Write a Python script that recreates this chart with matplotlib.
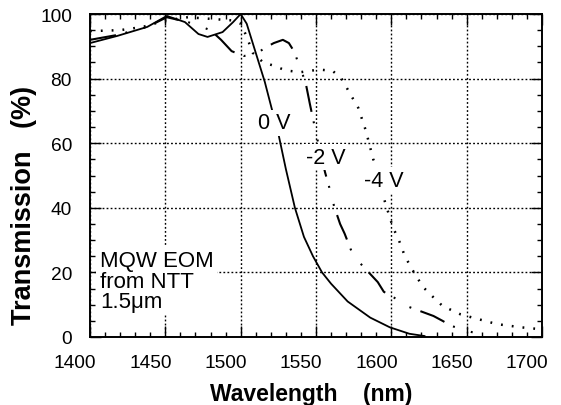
import matplotlib
matplotlib.use("Agg")
import matplotlib.pyplot as plt
from matplotlib.ticker import MultipleLocator
from matplotlib.transforms import ScaledTranslation

# Transmission spectra of an MQW electro-optic modulator at three bias voltages
wl_0v = [1400, 1418, 1438, 1451, 1463, 1472, 1478, 1488, 1495, 1500, 1504, 1508,
         1512, 1516, 1521, 1525, 1530, 1536, 1542, 1548, 1554, 1560, 1571, 1586,
         1599, 1612, 1622]
tr_0v = [91, 93.2, 96, 99.4, 97.5, 93.8, 92.9, 94.4, 97.5, 100, 97, 91,
         85, 79, 70, 63, 52, 40, 31, 25, 20, 16.5, 11, 6,
         3, 1, 0.3]

wl_2v = [1400, 1418, 1438, 1451, 1465, 1480, 1487, 1494, 1502, 1510, 1516, 1522,
         1528, 1532, 1536, 1538, 1543, 1546, 1551, 1556, 1559, 1562, 1566, 1569,
         1574, 1578, 1591, 1595, 1607, 1610, 1628, 1634, 1640, 1650, 1657]
tr_2v = [92, 93.5, 96, 99, 97.5, 95, 92, 88.5, 87, 87.5, 89.5, 91,
         92, 91, 88, 85, 79, 72, 61, 51, 46, 40.5, 35, 32,
         26, 23.5, 17, 14, 10.8, 9.6, 6.5, 5, 3.4, 2, 1]

wl_4v = [1400, 1420, 1435, 1450, 1465, 1480, 1495, 1500, 1504, 1508, 1515, 1522,
         1530, 1540, 1552, 1561, 1567, 1573, 1578, 1583, 1588, 1591, 1595, 1601,
         1605, 1609, 1615, 1621, 1627, 1634, 1646, 1654, 1670, 1686, 1697]
tr_4v = [94.7, 95, 96, 98, 99, 98.5, 98, 97, 93, 88, 85, 84,
         82.5, 82, 82.8, 82.4, 80, 75, 71, 64, 55, 52, 43, 34,
         30, 25, 20, 15.5, 12.7, 9.6, 7, 6, 4, 3, 2.5]

x_ticks = [1400, 1450, 1500, 1550, 1600, 1650, 1700]
y_ticks = [0, 20, 40, 60, 80, 100]

plt.rcParams["font.family"] = ["Liberation Sans", "DejaVu Sans"]
plt.rcParams["lines.scale_dashes"] = False

fig = plt.figure(figsize=(5.61, 4.06), dpi=100)
ax = fig.add_axes([90 / 561, 1 - 338 / 406, 452 / 561, 323 / 406])

ax.plot(wl_0v, tr_0v, color="k", lw=1.3, solid_joinstyle="round", zorder=3)
ax.plot(wl_2v, tr_2v, color="k", lw=1.5,
        linestyle=(0, (19, 7, 1.4, 12, 1.4, 7)), zorder=3)
ax.plot(wl_4v, tr_4v, color="k", lw=1.8, linestyle=(0, (1.3, 6.5)), zorder=3)

ax.set_xlim(1400, 1700)
ax.set_ylim(0, 100)
ax.set_xticks(x_ticks)
ax.set_yticks(y_ticks)
ax.xaxis.set_minor_locator(MultipleLocator(10))
ax.yaxis.set_minor_locator(MultipleLocator(5))

ax.set_axisbelow(True)
ax.grid(True, which="major", color="k", lw=1.0, linestyle=(0, (1.3, 1.6)))

for s in ax.spines.values():
    s.set_linewidth(1.4)

ax.tick_params(which="both", direction="in", top=True, right=True, color="k")
ax.tick_params(which="major", length=8, width=1.0, labelsize=13.8)
ax.tick_params(axis="x", which="major", pad=12.5)
ax.tick_params(axis="y", which="major", pad=13)
ax.tick_params(which="minor", length=3.5, width=1.0)

# tick numbers sit a little to the left of their grid lines
shift = ScaledTranslation(-15 / 100, 0, fig.dpi_scale_trans)
for lab in ax.get_xticklabels():
    lab.set_transform(lab.get_transform() + shift)

ax.set_xlabel("Wavelength    (nm)", fontsize=16.5, fontweight="bold", va="center")
ax.xaxis.set_label_coords(0.489, -0.174)
ax.set_ylabel("Transmission   (%)", fontsize=19.5, fontweight="bold", va="center")
ax.yaxis.set_label_coords(-0.146, 0.41)

box = dict(facecolor="white", edgecolor="none", pad=1.5)
ax.text(1522.2, 66.3, "0 V", fontsize=15.5, ha="center", va="center", bbox=box, zorder=4)
ax.text(1556.7, 55.7, "-2 V", fontsize=15.5, ha="center", va="center", bbox=box, zorder=4)
ax.text(1595.0, 48.6, "-4 V", fontsize=15.5, ha="center", va="center", bbox=box, zorder=4)
ax.text(1406.6, 26.8, "MQW EOM\nfrom NTT\n1.5\u03bcm", fontsize=16, ha="left", va="top",
        linespacing=0.95, bbox=dict(facecolor="white", edgecolor="none", pad=2.5), zorder=4)

fig.savefig("out.png", dpi=100)
